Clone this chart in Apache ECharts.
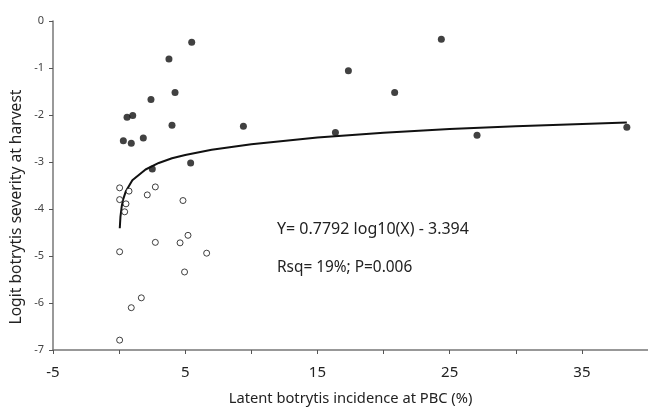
<!DOCTYPE html>
<html>
<head>
<meta charset="utf-8">
<script src="https://cdn.jsdelivr.net/npm/echarts@6/dist/echarts.min.js"></script>
<style>html,body{margin:0;padding:0;background:#fff}#c{width:648px;height:407px}</style>
</head>
<body>
<div id="c"></div>
<script>
// Filled points (x, y)
const filledX = [5.49, 3.77, 4.23, 2.41, 0.60, 1.03, 4.00, 9.40, 0.32, 0.92, 1.83, 5.41, 2.51, 24.37, 17.34, 20.84, 16.36, 27.07, 38.4];
const filledY = [-0.45, -0.81, -1.52, -1.67, -2.05, -2.01, -2.22, -2.24, -2.55, -2.60, -2.49, -3.02, -3.15, -0.39, -1.06, -1.52, -2.37, -2.43, -2.26];
// Open points (x, y)
const openX = [0.04, 0.75, 2.74, 2.13, 0.04, 0.52, 0.42, 4.83, 2.74, 4.61, 5.21, 0.04, 6.62, 4.95, 1.68, 0.92, 0.04];
const openY = [-3.55, -3.62, -3.53, -3.70, -3.80, -3.89, -4.06, -3.82, -4.71, -4.72, -4.56, -4.91, -4.94, -5.34, -5.89, -6.10, -6.79];
// Fitted curve
const curveX = [0.05, 0.1, 0.2, 0.3, 0.5, 1, 2, 3, 4, 5, 7, 10, 15, 20, 25, 30, 38.4];
const curveY = [-4.41, -4.17, -3.94, -3.80, -3.63, -3.39, -3.16, -3.02, -2.92, -2.85, -2.74, -2.62, -2.48, -2.38, -2.30, -2.24, -2.16];
const xTicks = [-5, 5, 15, 25, 35];
const xTitle = 'Latent botrytis incidence at PBC (%)';
const yTitle = 'Logit botrytis severity at harvest';
const eqText = 'Y= 0.7792 log10(X) - 3.394';
const statText = 'Rsq= 19%; P=0.006';

const zip = (a, b) => a.map((v, i) => [v, b[i]]);
const FONT = 'Noto Sans';
const chart = echarts.init(document.getElementById('c'), null, {renderer: 'canvas'});
chart.setOption({
  animation: false,
  backgroundColor: '#fff',
  grid: {left: 53, right: 0, top: 21, bottom: 57, containLabel: false, outerBoundsMode: 'none'},
  xAxis: {
    type: 'value', min: -5, max: 40, interval: 5,
    name: xTitle,
    nameLocation: 'middle', nameGap: 41,
    nameTextStyle: {fontFamily: FONT, fontSize: 14.7, color: '#222'},
    axisLine: {show: true, onZero: false, lineStyle: {color: '#777', width: 1.5}},
    axisTick: {show: true, length: 4, inside: false, lineStyle: {color: '#555'}},
    axisLabel: {fontFamily: FONT, fontSize: 15, color: '#222', margin: 15,
      formatter: v => xTicks.includes(v) ? String(v) : ''},
    splitLine: {show: false}
  },
  yAxis: {
    type: 'value', min: -7, max: 0, interval: 1,
    axisLine: {show: true, onZero: false, lineStyle: {color: '#777', width: 1.5}},
    axisTick: {show: true, length: 4, lineStyle: {color: '#555'}},
    axisLabel: {fontFamily: FONT, fontSize: 11, color: '#444', margin: 9},
    splitLine: {show: false}
  },
  series: [
    {type: 'line', data: zip(curveX, curveY), showSymbol: false, symbol: 'none',
      lineStyle: {color: '#111', width: 2}, z: 1},
    {type: 'scatter', data: zip(filledX, filledY), symbol: 'circle', symbolSize: 7,
      itemStyle: {color: '#111'}, z: 3},
    {type: 'scatter', data: zip(openX, openY), symbol: 'circle', symbolSize: 6,
      itemStyle: {color: '#fff', borderColor: '#111', borderWidth: 1}, z: 3}
  ],
  graphic: [
    {type: 'text', x: 17, y: 207, rotation: Math.PI / 2,
      style: {text: yTitle, font: '15.6px "Noto Sans"', fill: '#222', align: 'center', verticalAlign: 'middle'}},
    {type: 'text', left: 277, top: 221, style: {text: eqText, font: '16px "Noto Sans"', fill: '#222'}},
    {type: 'text', left: 277, top: 260, style: {text: statText, font: '15.4px "Noto Sans"', fill: '#222'}}
  ]
});
</script>
</body>
</html>
